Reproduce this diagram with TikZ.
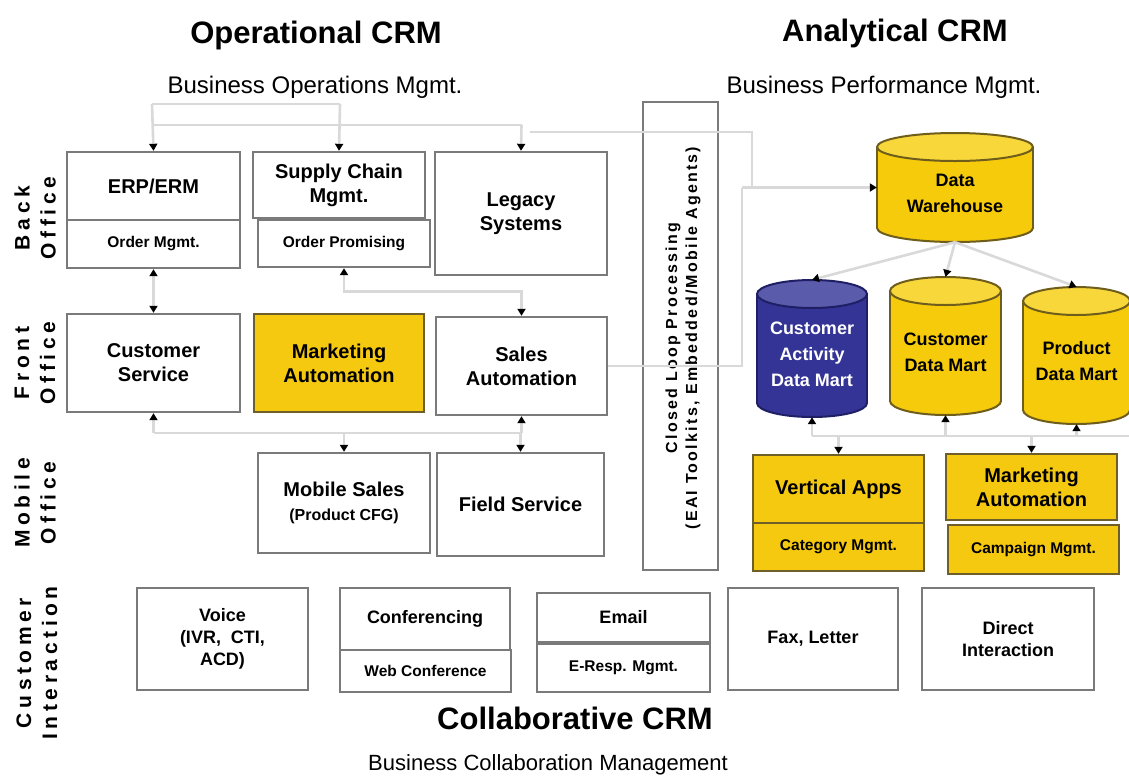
\documentclass[tikz,border=0pt]{standalone}
\usepackage{fontspec}
\setmainfont{Liberation Sans}
\usetikzlibrary{arrows.meta,fit}

\definecolor{boxgray}{HTML}{7A7A7A}
\definecolor{linkgray}{HTML}{D9D9D9}
\definecolor{crmyellow}{HTML}{F5C90F}
\definecolor{yborder}{HTML}{6E5E2A}
\definecolor{drumyellow}{HTML}{F5CB0C}
\definecolor{drumytop}{HTML}{F8D73A}
\definecolor{drumyline}{HTML}{6F5D1C}
\definecolor{drumblue}{HTML}{343496}
\definecolor{drumbtop}{HTML}{5B5BAB}
\definecolor{drumbline}{HTML}{1F1F66}

% font settings
\newcommand\crmtitle{\fontsize{31}{36}\selectfont\bfseries}
\newcommand\crmsub{\fontsize{24}{28}\selectfont}
\newcommand\crmlab{\fontsize{20}{24}\selectfont\bfseries}
\newcommand\crmsmall{\fontsize{15.5}{18}\selectfont\bfseries}
\newcommand\crmdrum{\fontsize{18}{26}\selectfont\bfseries}
\newcommand\crmrow{\fontsize{21}{26}\selectfont\bfseries\addfontfeature{LetterSpace=22}}
\newcommand\crmloop{\fontsize{16}{20}\selectfont\bfseries\addfontfeature{LetterSpace=14}}

% a rectangular box spanning (left,top)-(right,bottom)
\newcommand\crmbox[7]{\node[#6, minimum width={#4-#2}, minimum height={#5-#3}]
  (#1) at ({(#2+#4)/2},{(#3+#5)/2}) {#7};}

% a database drum: name, left, top, right, bottom, body, top, outline, text colour
\newcommand\crmdrumshape[9]{%
  \pgfmathsetmacro\dmcx{(#2+#4)/2}%
  \pgfmathsetmacro\dmrx{(#4-#2)/2}%
  \pgfmathsetmacro\dmyt{#3+14}%
  \pgfmathsetmacro\dmyb{#5-14}%
  \filldraw[fill=#6, draw=#8, line width=2pt] (\dmcx,\dmyb) ellipse [x radius=\dmrx, y radius=14];
  \fill[#6] (#2,\dmyt) rectangle (#4,\dmyb);
  \draw[#8, line width=2pt] (#2,\dmyt) -- (#2,\dmyb) (#4,\dmyt) -- (#4,\dmyb);
  \filldraw[fill=#7, draw=#8, line width=2pt] (\dmcx,\dmyt) ellipse [x radius=\dmrx, y radius=14];
  \node[fit={(#2,#3) (#4,#5)}, inner sep=0pt] (#1) {};
  \node[font=\crmdrum, align=center, text=#9, yshift=-6pt] (#1-text) at (#1.center) {\crmdrumtext};
}

\begin{document}
\begin{tikzpicture}[x=1pt, y=-1pt,
  box/.style={draw=boxgray, line width=2.4pt, fill=white, inner sep=0pt, align=center, font=\crmlab},
  smallbox/.style={box, font=\crmsmall},
  ybox/.style={box, fill=crmyellow, draw=yborder},
  ysmallbox/.style={ybox, font=\crmsmall},
  iabox/.style={box, font=\fontsize{18}{22}\selectfont\bfseries},
  link/.style={draw=linkgray, line width=2.6pt},
  onehead/.style={-{Triangle[length=7pt,width=8pt,color=black]}},
  twohead/.style={{Triangle[length=7pt,width=8pt,color=black]}-{Triangle[length=7pt,width=8pt,color=black]}},
  rowlab/.style={rotate=90, align=center, font=\crmrow},
  heading/.style={font=\crmtitle},
  subhead/.style={font=\crmsub}]

\useasboundingbox[fill=white] (0,0) rectangle (1129,780);

% headings
\node[heading] (opcrm) at (316,35) {Operational CRM};
\node[heading] (ancrm) at (895,33) {Analytical CRM};
\node[subhead] (opmgmt) at (315,87) {Business Operations Mgmt.};
\node[subhead] (anmgmt) at (884,87) {Business Performance Mgmt.};
\node[heading] (colcrm) at (575,718) {Collaborative CRM};
\node[subhead, font=\fontsize{22}{26}\selectfont] (colmgmt) at (548,765) {Business Collaboration Management};

% row labels
\node[rowlab] (rowback) at (35,218) {Back\\Office};
\node[rowlab] (rowfront) at (35,363) {Front\\Office};
\node[rowlab] (rowmobile) at (35,503) {Mobile\\Office};
\node[rowlab] (rowcust) at (37,663) {Customer\\Interaction};

% back office
\crmbox{erp}{67}{152}{240}{220}{box}{ERP/ERM}
\crmbox{orderm}{67}{220}{240}{268}{smallbox}{Order Mgmt.}
\crmbox{scm}{253}{152}{425}{218}{box}{Supply Chain\\Mgmt.}
\crmbox{oprom}{258}{220}{430}{267}{smallbox}{Order Promising}
\crmbox{legacy}{435}{152}{607}{275}{box}{Legacy\\Systems}

% front office
\crmbox{custserv}{67}{314}{240}{412}{box}{Customer\\Service}
\crmbox{mktauto}{254}{314}{424}{412}{ybox}{Marketing\\Automation}
\crmbox{salesauto}{436}{317}{607}{415}{box}{Sales\\Automation}

% mobile office
\crmbox{mobsales}{258}{453}{430}{553}{box}{Mobile Sales\\{\fontsize{16}{19}\selectfont (Product CFG)}}
\crmbox{fieldserv}{437}{453}{604}{556}{box}{Field Service}

% integration column
\crmbox{loop}{643}{102}{718}{570}{box}{}
\node[rotate=90, align=center, font=\crmloop] (looptext) at (683,338)
  {Closed Loop Processing\\(EAI Toolkits, Embedded/Mobile Agents)};

% analytical applications
\crmbox{vertapps}{753}{455}{924}{523}{ybox}{Vertical Apps}
\crmbox{catmgmt}{753}{523}{924}{571}{ysmallbox}{Category Mgmt.}
\crmbox{mktauto2}{946}{454}{1117}{520}{ybox}{Marketing\\Automation}
\crmbox{campmgmt}{948}{525}{1119}{574}{ysmallbox}{Campaign Mgmt.}

% customer interaction channels
\crmbox{voice}{137}{588}{308}{690}{iabox}{Voice\\(IVR,\ \ CTI,\\ACD)}
\crmbox{conf}{340}{588}{510}{650}{iabox}{Conferencing}
\crmbox{webconf}{340}{650}{511}{692}{smallbox}{Web Conference}
\crmbox{email}{537}{593}{710}{642}{iabox}{Email}
\crmbox{eresp}{537}{644}{710}{692}{smallbox}{E-Resp. Mgmt.}
\crmbox{fax}{728}{588}{898}{690}{iabox}{Fax, Letter}
\crmbox{direct}{922}{588}{1094}{690}{iabox}{Direct\\Interaction}

% data stores
\def\crmdrumtext{Data\\Warehouse}
\crmdrumshape{dw}{877}{133}{1033}{242}{drumyellow}{drumytop}{drumyline}{black}
\def\crmdrumtext{Customer\\Activity\\Data Mart}
\crmdrumshape{cadm}{757}{280}{867}{417}{drumblue}{drumbtop}{drumbline}{white}
\def\crmdrumtext{Customer\\Data Mart}
\crmdrumshape{cdm}{890}{277}{1001}{415}{drumyellow}{drumytop}{drumyline}{black}
\def\crmdrumtext{Product\\Data Mart}
\crmdrumshape{pdm}{1023}{287}{1130}{424}{drumyellow}{drumytop}{drumyline}{black}

% connectors: operations management to back office
\coordinate (bomA) at (152,104);
\coordinate (bomB) at (340,104);
\coordinate (bomC) at (152,125);
\coordinate (bomD) at (521.5,125);
\draw[link] (bomA) -- (bomB);
\draw[link] (bomC) -- (bomD);
\draw[link, onehead] (bomA) -- (erp.north);
\draw[link, onehead] (bomB) -- (scm.north);
\draw[link, onehead] (bomD) -- (legacy.north);

% back office to front office
\draw[link, twohead] (orderm.south) -- (custserv.north);
\draw[link, twohead] (oprom.south) -- ++(0,23) -| (salesauto.north);

% front office to mobile office
\coordinate (fbus) at (0,433);
\draw[link] (custserv.south |- fbus) -- (salesauto.south |- fbus);
\draw[link, onehead] (custserv.south |- fbus) -- (custserv.south);
\draw[link, onehead] (mobsales.north |- fbus) -- (mobsales.north);
\draw[link, onehead] (salesauto.south |- fbus) -- (salesauto.south);
\draw[link, onehead] (fieldserv.north |- fbus) -- (fieldserv.north);

% feeds into the warehouse
\coordinate (legout) at (530,132);
\coordinate (legturn) at (752,132);
\coordinate (feedA) at (752,187.5);
\coordinate (feedB) at (742,187.5);
\coordinate (feedC) at (742,366);
\draw[link] (legout) -- (legturn) -- (feedA);
\draw[link] (salesauto.east |- feedC) -- (feedC) -- (feedB);
\draw[link, onehead] (feedB) -- (dw.west);

% warehouse to data marts
\draw[link, onehead] (dw.south) -- (cadm.north);
\draw[link, onehead] (dw.south) -- (cdm.north);
\draw[link, onehead] (dw.south) -- (pdm.north);

% data marts to analytical applications
\coordinate (abus) at (0,436);
\coordinate (abusend) at (1129,436);
\draw[link] (cadm.south |- abus) -- (abusend);
\draw[link, onehead] (cadm.south |- abus) -- (cadm.south);
\draw[link, onehead] (cdm.south |- abus) -- (cdm.south);
\draw[link, onehead] (pdm.south |- abus) -- (pdm.south);
\draw[link, onehead] (vertapps.north |- abus) -- (vertapps.north);
\draw[link, onehead] (mktauto2.north |- abus) -- (mktauto2.north);

\end{tikzpicture}
\end{document}
